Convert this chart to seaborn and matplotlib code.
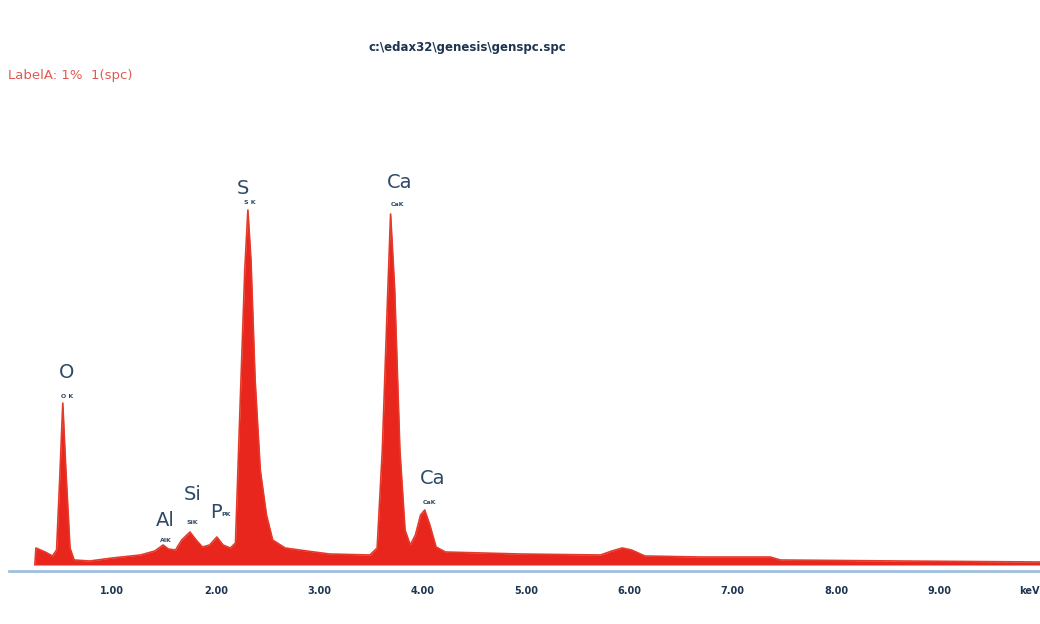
#bibliotecas
import numpy as np
import pandas as pd
import matplotlib
matplotlib.use('Agg')
import matplotlib.pyplot as plt
import seaborn as sns

# espectro EDS (energia em keV, contagens em unidades arbitrarias)
energia = [0.25, 0.26, 0.35, 0.42, 0.46, 0.49, 0.52, 0.55, 0.59, 0.63, 0.78,
           1.00, 1.27, 1.41, 1.49, 1.54, 1.61, 1.67, 1.75, 1.81, 1.87, 1.94,
           2.01, 2.07, 2.14, 2.19, 2.23, 2.28, 2.31, 2.34, 2.38, 2.43, 2.49,
           2.55, 2.67, 2.88, 3.10, 3.49, 3.56, 3.61, 3.66, 3.69, 3.73, 3.78,
           3.83, 3.88, 3.93, 3.98, 4.02, 4.07, 4.13, 4.22, 4.94, 5.72, 5.83,
           5.93, 6.02, 6.15, 6.68, 7.36, 7.46, 8.62, 9.97]
contagens = [0, 17, 13, 9, 15, 85, 162, 95, 17, 5, 4,
             7, 10, 14, 20, 16, 15, 25, 33, 25, 18, 20,
             28, 20, 17, 22, 145, 295, 355, 305, 185, 95, 50,
             25, 17, 14, 11, 10, 17, 115, 265, 351, 275, 115,
             35, 20, 30, 50, 55, 40, 18, 13, 11, 10, 14,
             17, 15, 9, 8, 8, 5, 4, 3]

# rotulos dos elementos
elementos = ['O', 'Al', 'Si', 'P', 'S', 'Ca', 'Ca']
pos_elem = [(0.56, 192), (1.51, 44), (1.78, 71), (2.00, 53), (2.26, 377), (3.78, 383), (4.10, 87)]
linhas = ['O K', 'AlK', 'SiK', 'PK', 'S K', 'CaK', 'CaK']
pos_linha = [(0.56, 168), (1.52, 25), (1.77, 43), (2.10, 50), (2.33, 362), (3.76, 360), (4.07, 63)]

ticks = [1, 2, 3, 4, 5, 6, 7, 8, 9, 9.97]
tick_labels = ['1.00', '2.00', '3.00', '4.00', '5.00', '6.00', '7.00', '8.00', '9.00', 'keV']

df = pd.DataFrame({'keV': energia, 'cnts': contagens})

sns.set_style('white')
plt.rcParams['font.family'] = ['DejaVu Sans']

fig = plt.figure(figsize=(10.4, 6.24), dpi=100)
ax = fig.add_axes([9/1040, 53/624, 1031/1040, 471/624])

ax.fill_between(df['keV'], 0, df['cnts'], color='#e8261d', lw=0)
sns.lineplot(data=df, x='keV', y='cnts', color='#e33a2a', lw=1.2, ax=ax)

ax.set_xlim(0, 9.97)
ax.set_ylim(-6, 465)
ax.set_xlabel('')
ax.set_ylabel('')
ax.set_yticks([])
ax.set_xticks(ticks)
ax.set_xticklabels(tick_labels, fontsize=7, fontweight='bold', color='#1d3550')
ax.get_xticklabels()[-1].set_ha('right')
ax.tick_params(axis='x', length=3, width=1.5, color='#5a8ab0', pad=8)
for s in ['top', 'right', 'left']:
    ax.spines[s].set_visible(False)
ax.spines['bottom'].set_color('#9ec0dc')
ax.spines['bottom'].set_linewidth(2)

for el, (x, y) in zip(elementos, pos_elem):
    ax.text(x, y, el, fontsize=14, color='#2f4a66', ha='center', va='center')
for ln, (x, y) in zip(linhas, pos_linha):
    ax.text(x, y, ln, fontsize=4.5, fontweight='bold', color='#2f4a66', ha='center', va='center')

fig.text(467/1040, 1 - 47/624, 'c:\\edax32\\genesis\\genspc.spc', fontsize=8.5,
         fontweight='bold', color='#1d3550', ha='center', va='center')
fig.text(8/1040, 1 - 75/624, 'LabelA: 1%  1(spc)', fontsize=9.5,
         color='#e05a50', ha='left', va='center')

fig.savefig('out.png', dpi=100)
